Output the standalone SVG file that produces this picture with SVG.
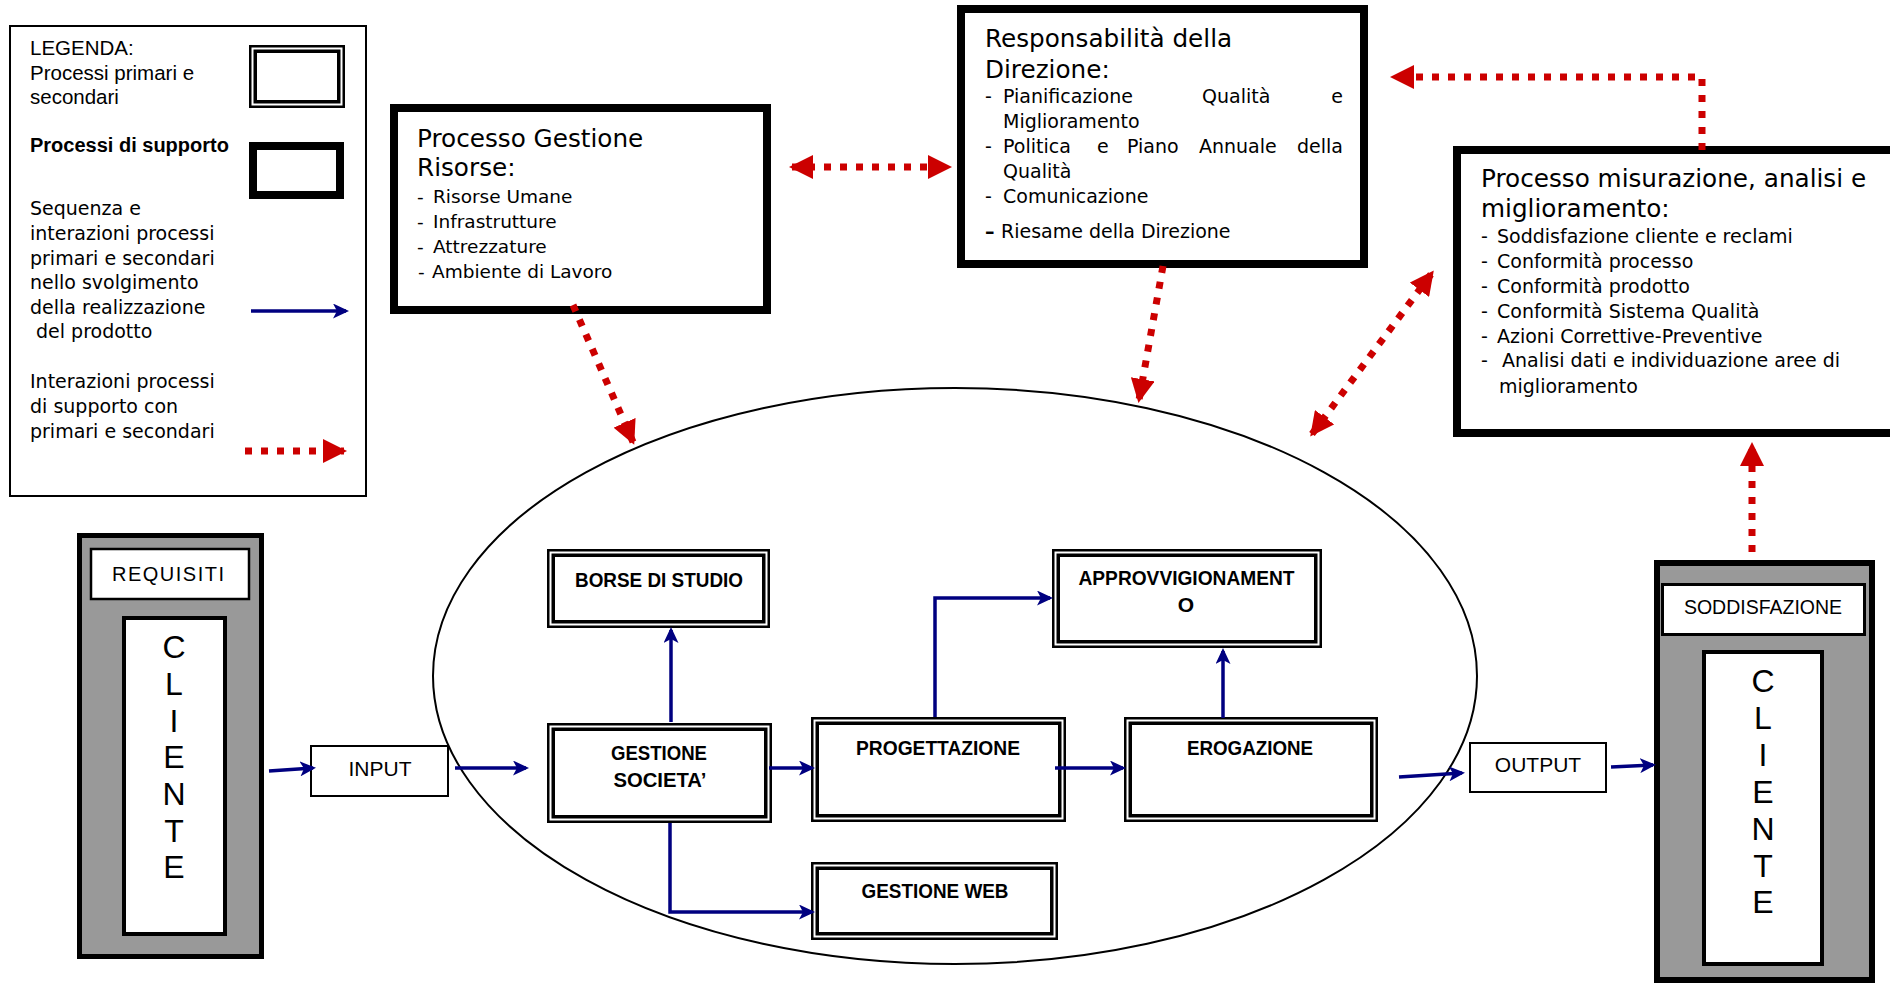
<svg xmlns="http://www.w3.org/2000/svg" width="1890" height="985" viewBox="0 0 1890 985">
<defs>
<style>
.thick{fill:#fff;stroke:#000;stroke-width:8}
.dblo{fill:#fff;stroke:#000;stroke-width:2.5}
.dbli{fill:none;stroke:#000;stroke-width:3.5}
.box{fill:#fff;stroke:#000;stroke-width:2.5}
.blue{fill:none;stroke:#000080;stroke-width:3.5;marker-end:url(#ab)}
.red{fill:none;stroke:#cc0000;stroke-width:7;stroke-dasharray:7 9}
.redE{marker-end:url(#ar)}
.redB{marker-start:url(#ar);marker-end:url(#ar)}
.t{font-family:"DejaVu Sans",Verdana,sans-serif;fill:#000}
.ti{font-size:24.7px}
.it{font-size:19px}
.a{font-family:"Liberation Sans",Arial,sans-serif;fill:#000}
.lb{font-family:"Liberation Sans",Arial,sans-serif;font-weight:bold;font-size:21px;fill:#000;text-anchor:middle}
.cl{font-family:"Liberation Sans",Arial,sans-serif;font-size:32px;text-anchor:middle;fill:#000}
</style>
<marker id="ab" markerUnits="userSpaceOnUse" markerWidth="16" markerHeight="15" refX="13" refY="7.5" orient="auto">
<path d="M0,0 L16,7.5 L0,15 L4,7.5 Z" fill="#000080"/>
</marker>
<marker id="ar" markerUnits="userSpaceOnUse" markerWidth="24" markerHeight="24" refX="21" refY="12" orient="auto-start-reverse">
<path d="M0,0 L24,12 L0,24 Z" fill="#cc0000"/>
</marker>
</defs>
<rect width="1890" height="985" fill="#fff"/>

<g id="legend">
<rect x="10" y="26" width="356" height="470" fill="#fff" stroke="#000" stroke-width="2"/>
<text class="a" x="30" y="55" font-size="20.5">LEGENDA:</text>
<text class="a" x="30" y="80" font-size="20.5">Processi primari e</text>
<text class="a" x="30" y="104" font-size="20.5">secondari</text>
<rect class="dblo" x="250.25" y="46.25" width="93.5" height="60.5"/>
<rect class="dbli" x="255.25" y="51.25" width="83.5" height="50.5"/>
<text class="a" x="30" y="152" font-size="20" font-weight="bold">Processi di supporto</text>
<rect class="thick" x="253" y="146" width="87" height="49"/>
<text class="t it" x="30" y="215">Sequenza e</text>
<text class="t it" x="30" y="240">interazioni processi</text>
<text class="t it" x="30" y="265">primari e secondari</text>
<text class="t it" x="30" y="289">nello svolgimento</text>
<text class="t it" x="30" y="314">della realizzazione</text>
<text class="t it" x="36" y="338">del prodotto</text>
<path class="blue" d="M251,311 L346,311"/>
<text class="t it" x="30" y="388">Interazioni processi</text>
<text class="t it" x="30" y="413">di supporto con</text>
<text class="t it" x="30" y="438">primari e secondari</text>
<path class="red redE" d="M245,451 L344,451"/>
</g>

<g id="gestione-risorse">
<rect class="thick" x="394" y="108" width="373" height="202"/>
<text class="t ti" x="417" y="147">Processo Gestione</text>
<text class="t ti" x="417" y="176">Risorse:</text>
<text class="t" font-size="18.5" x="417" y="203">-</text><text class="t" font-size="18.5" x="433" y="203">Risorse Umane</text>
<text class="t" font-size="18.5" x="417" y="228">-</text><text class="t" font-size="18.5" x="433" y="228">Infrastrutture</text>
<text class="t" font-size="18.5" x="417" y="253">-</text><text class="t" font-size="18.5" x="433" y="253">Attrezzature</text>
<text class="t" font-size="18.5" x="418" y="278">-</text><text class="t" font-size="18.5" x="432" y="278">Ambiente di Lavoro</text>
</g>

<g id="responsabilita">
<rect class="thick" x="961" y="9" width="403" height="255"/>
<text class="t ti" x="985" y="47">Responsabilità della</text>
<text class="t ti" x="985" y="78">Direzione:</text>
<text class="t it" x="985" y="103">-</text>
<text class="t it" x="1003" y="103">Pianificazione</text>
<text class="t it" x="1202" y="103">Qualità</text>
<text class="t it" x="1343" y="103" text-anchor="end">e</text>
<text class="t it" x="1003" y="128">Miglioramento</text>
<text class="t it" x="985" y="153">-</text>
<text class="t it" x="1003" y="153">Politica</text>
<text class="t it" x="1097" y="153">e</text>
<text class="t it" x="1127" y="153">Piano</text>
<text class="t it" x="1199" y="153">Annuale</text>
<text class="t it" x="1343" y="153" text-anchor="end">della</text>
<text class="t it" x="1003" y="178">Qualità</text>
<text class="t it" x="985" y="203">-</text>
<text class="t it" x="1003" y="203">Comunicazione</text>
<text class="t it" x="985" y="238" font-weight="bold">–</text>
<text class="t it" x="1001" y="238">Riesame della Direzione</text>
</g>

<g id="misurazione">
<rect class="thick" x="1457" y="150" width="500" height="283"/>
<text class="t ti" x="1481" y="187">Processo misurazione, analisi e</text>
<text class="t ti" x="1481" y="217">miglioramento:</text>
<text class="t it" x="1481" y="243">-</text><text class="t it" x="1497" y="243">Soddisfazione cliente e reclami</text>
<text class="t it" x="1481" y="268">-</text><text class="t it" x="1497" y="268">Conformità processo</text>
<text class="t it" x="1481" y="293">-</text><text class="t it" x="1497" y="293">Conformità prodotto</text>
<text class="t it" x="1481" y="318">-</text><text class="t it" x="1497" y="318">Conformità Sistema Qualità</text>
<text class="t it" x="1481" y="343">-</text><text class="t it" x="1497" y="343">Azioni Correttive-Preventive</text>
<text class="t it" x="1481" y="367">-</text><text class="t it" x="1502" y="367">Analisi dati e individuazione aree di</text>
<text class="t it" x="1499" y="393">miglioramento</text>
</g>

<g id="ellipse">
<ellipse cx="955" cy="676" rx="522" ry="288" fill="none" stroke="#000" stroke-width="2"/>
</g>

<g id="cliente-sx">
<rect x="79.5" y="535.5" width="182" height="421" fill="#999" stroke="#000" stroke-width="5"/>
<rect class="box" x="91" y="549" width="158" height="50"/>
<text class="a" x="168" y="581" font-size="20" text-anchor="middle" textLength="112" lengthAdjust="spacing">REQUISITI</text>
<rect x="124" y="618" width="101" height="316" fill="#fff" stroke="#000" stroke-width="4"/>
<text class="cl" x="174" y="658">C</text>
<text class="cl" x="174" y="695">L</text>
<text class="cl" x="174" y="732">I</text>
<text class="cl" x="174" y="768">E</text>
<text class="cl" x="174" y="805">N</text>
<text class="cl" x="174" y="842">T</text>
<text class="cl" x="174" y="878">E</text>
</g>

<g id="input">
<rect x="311" y="746" width="137" height="50" fill="#fff" stroke="#000" stroke-width="2"/>
<text class="a" x="380" y="776" font-size="21" text-anchor="middle">INPUT</text>
</g>

<g id="borse">
<rect class="dblo" x="548.25" y="550.25" width="220.5" height="76.5"/>
<rect class="dbli" x="553.25" y="555.25" width="210.5" height="66.5"/>
<text class="lb" x="659" y="587" textLength="168" lengthAdjust="spacingAndGlyphs">BORSE DI STUDIO</text>
</g>

<g id="gestione-societa">
<rect class="dblo" x="548.25" y="724.25" width="222.5" height="97.5"/>
<rect class="dbli" x="553.25" y="729.25" width="212.5" height="87.5"/>
<text class="lb" x="659" y="760" textLength="96" lengthAdjust="spacingAndGlyphs">GESTIONE</text>
<text class="lb" x="660" y="787" textLength="93" lengthAdjust="spacingAndGlyphs">SOCIETA’</text>
</g>

<g id="progettazione">
<rect class="dblo" x="812.25" y="718.25" width="252.5" height="102.5"/>
<rect class="dbli" x="817.25" y="723.25" width="242.5" height="92.5"/>
<text class="lb" x="938" y="755" textLength="164" lengthAdjust="spacingAndGlyphs">PROGETTAZIONE</text>
</g>

<g id="gestione-web">
<rect class="dblo" x="812.25" y="863.25" width="244.5" height="75.5"/>
<rect class="dbli" x="817.25" y="868.25" width="234.5" height="65.5"/>
<text class="lb" x="935" y="898" textLength="147" lengthAdjust="spacingAndGlyphs">GESTIONE WEB</text>
</g>

<g id="approvvigionamento">
<rect class="dblo" x="1053.25" y="550.25" width="267.5" height="96.5"/>
<rect class="dbli" x="1058.25" y="555.25" width="257.5" height="86.5"/>
<text class="lb" x="1186.5" y="585" textLength="216" lengthAdjust="spacingAndGlyphs">APPROVVIGIONAMENT</text>
<text class="lb" x="1186" y="612">O</text>
</g>

<g id="erogazione">
<rect class="dblo" x="1125.25" y="718.25" width="251.5" height="102.5"/>
<rect class="dbli" x="1130.25" y="723.25" width="241.5" height="92.5"/>
<text class="lb" x="1250" y="755" textLength="126" lengthAdjust="spacingAndGlyphs">EROGAZIONE</text>
</g>

<g id="output">
<rect x="1470" y="743" width="136" height="49" fill="#fff" stroke="#000" stroke-width="2"/>
<text class="a" x="1538" y="772" font-size="21" text-anchor="middle">OUTPUT</text>
</g>

<g id="cliente-dx">
<rect x="1657" y="563" width="215" height="417" fill="#999" stroke="#000" stroke-width="6"/>
<rect x="1662.5" y="584.5" width="202" height="50" fill="#fff" stroke="#000" stroke-width="3"/>
<text class="a" x="1763" y="614" font-size="19.5" text-anchor="middle">SODDISFAZIONE</text>
<rect x="1704" y="652" width="118" height="312" fill="#fff" stroke="#000" stroke-width="4"/>
<text class="cl" x="1763" y="692">C</text>
<text class="cl" x="1763" y="729">L</text>
<text class="cl" x="1763" y="766">I</text>
<text class="cl" x="1763" y="803">E</text>
<text class="cl" x="1763" y="840">N</text>
<text class="cl" x="1763" y="877">T</text>
<text class="cl" x="1763" y="913">E</text>
</g>

<g id="connectors">
<path class="blue" d="M269,771 L313,768"/>
<path class="blue" d="M455,768 L526,768"/>
<path class="blue" d="M671,722 L671,630"/>
<path class="blue" d="M769,768 L812,768"/>
<path class="blue" d="M670,823 L670,912 L812,912"/>
<path class="blue" d="M935,717 L935,598 L1050,598"/>
<path class="blue" d="M1055,768 L1123,768"/>
<path class="blue" d="M1223,718 L1223,651"/>
<path class="blue" d="M1399,777 L1462,773"/>
<path class="blue" d="M1611,767 L1653,765"/>
<path class="red redE" d="M573,305 L633,442"/>
<path class="red redE" d="M1163,266 L1139,400"/>
<path class="red redB" d="M1312,434 L1432,273"/>
<path class="red redB" d="M792,167 L949,167"/>
<path class="red redE" d="M1702,150 L1702,77 L1393,77"/>
<path class="red redE" d="M1752,552 L1752,445"/>
</g>
</svg>
